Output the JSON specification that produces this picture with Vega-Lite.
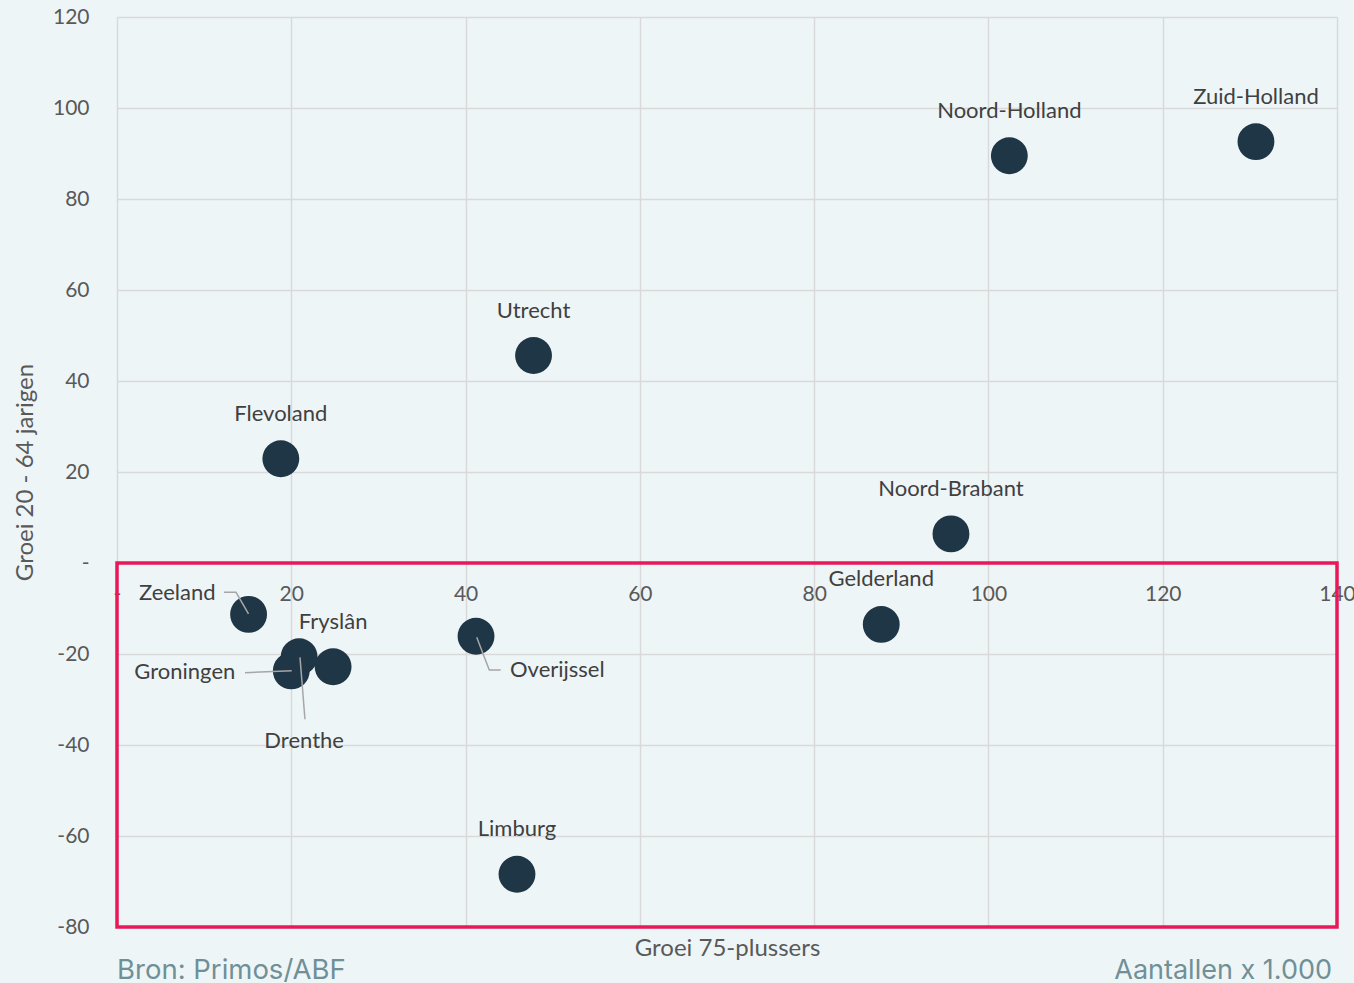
{
  "$schema": "https://vega.github.io/schema/vega-lite/v6.json",
  "width": 1220,
  "height": 910,
  "autosize": {"type": "none"},
  "padding": {"left": 117, "top": 17, "right": 17, "bottom": 56},
  "background": "#eef5f7",
  "config": {"view": {"stroke": null}},
  "datasets": {
    "prov": [
      {"name": "Zuid-Holland", "x": 130.7, "y": 92.6},
      {"name": "Noord-Holland", "x": 102.4, "y": 89.5},
      {"name": "Utrecht", "x": 47.8, "y": 45.6},
      {"name": "Flevoland", "x": 18.8, "y": 22.9},
      {"name": "Noord-Brabant", "x": 95.7, "y": 6.4},
      {"name": "Gelderland", "x": 87.7, "y": -13.5},
      {"name": "Zeeland", "x": 15.1, "y": -11.3},
      {"name": "Drenthe", "x": 20.9, "y": -20.6},
      {"name": "Groningen", "x": 20.0, "y": -23.7},
      {"name": "Fryslân", "x": 24.8, "y": -22.8},
      {"name": "Overijssel", "x": 41.2, "y": -16.1},
      {"name": "Limburg", "x": 45.9, "y": -68.4}
    ],
    "leaders": [
      {"name": "Zeeland", "seq": 1, "x": 12.28, "y": -6.44},
      {"name": "Zeeland", "seq": 2, "x": 13.66, "y": -6.44},
      {"name": "Zeeland", "seq": 3, "x": 15.09, "y": -11.2},
      {"name": "Groningen", "seq": 1, "x": 14.69, "y": -24.11},
      {"name": "Groningen", "seq": 2, "x": 20.05, "y": -23.67},
      {"name": "Drenthe", "seq": 1, "x": 21.0, "y": -20.73},
      {"name": "Drenthe", "seq": 2, "x": 21.57, "y": -34.35},
      {"name": "Overijssel", "seq": 1, "x": 41.28, "y": -16.33},
      {"name": "Overijssel", "seq": 2, "x": 42.72, "y": -23.52},
      {"name": "Overijssel", "seq": 3, "x": 44.03, "y": -23.52}
    ],
    "box": [{"x": 0, "x2": 140, "y": 0, "y2": -80}],
    "footL": [{"x": 0, "y": -80, "text": "Bron: Primos/ABF"}],
    "footR": [{"x": 140, "y": -80, "text": "Aantallen x 1.000"}]
  },
  "data": {"name": "prov"},
  "encoding": {
    "x": {
      "field": "x", "type": "quantitative",
      "scale": {"domain": [0, 140], "nice": false, "zero": false},
      "axis": {
        "values": [0, 20, 40, 60, 80, 100, 120, 140],
        "offset": -364,
        "grid": true, "gridColor": "#d9d9d9", "gridWidth": 1.5,
        "domain": false, "ticks": false,
        "labelPadding": 20, "labelFlush": false, "labelOverlap": false,
        "labelExpr": "datum.value == 0 ? '-' : '' + datum.value",
        "labelFont": "Lato", "labelFontSize": 21, "labelColor": "#595959",
        "title": "Groei 75-plussers",
        "titleFont": "Lato", "titleFontSize": 24, "titleFontWeight": "normal", "titleColor": "#595959",
        "titleY": 385, "titleBaseline": "middle"
      }
    },
    "y": {
      "field": "y", "type": "quantitative",
      "scale": {"domain": [-80, 120], "nice": false, "zero": false},
      "axis": {
        "values": [-80, -60, -40, -20, 0, 20, 40, 60, 80, 100, 120],
        "grid": true, "gridColor": "#d9d9d9", "gridWidth": 1.5,
        "domain": false, "ticks": false,
        "labelPadding": 28, "labelFlush": false, "labelOverlap": false,
        "labelExpr": "datum.value == 0 ? '-' : '' + datum.value",
        "labelFont": "Lato", "labelFontSize": 21, "labelColor": "#595959",
        "title": "Groei 20 - 64 jarigen",
        "titleFont": "Lato", "titleFontSize": 24, "titleFontWeight": "normal", "titleColor": "#595959",
        "titleX": -92, "titleBaseline": "middle"
      }
    }
  },
  "layer": [
    {
      "mark": {"type": "circle", "size": 1360, "color": "#1f3646", "opacity": 1},
      "encoding": {}
    },
    {
      "data": {"name": "leaders"},
      "mark": {"type": "line", "color": "#a6a6a6", "strokeWidth": 1.5},
      "encoding": {
        "detail": {"field": "name"},
        "order": {"field": "seq", "type": "quantitative"}
      }
    },
    {
      "transform": [{"filter": {"not": {"field": "name", "oneOf": ["Zeeland", "Groningen", "Drenthe", "Overijssel"]}}}],
      "mark": {"type": "text", "font": "Lato", "fontSize": 22, "color": "#404040", "baseline": "middle", "align": "center", "dy": -45},
      "encoding": {"text": {"field": "name"}}
    },
    {
      "transform": [{"filter": {"field": "name", "equal": "Zeeland"}}],
      "mark": {"type": "text", "font": "Lato", "fontSize": 22, "color": "#404040", "baseline": "middle", "align": "right", "dx": -33, "dy": -21},
      "encoding": {"text": {"field": "name"}}
    },
    {
      "transform": [{"filter": {"field": "name", "equal": "Groningen"}}],
      "mark": {"type": "text", "font": "Lato", "fontSize": 22, "color": "#404040", "baseline": "middle", "align": "right", "dx": -56, "dy": 1},
      "encoding": {"text": {"field": "name"}}
    },
    {
      "transform": [{"filter": {"field": "name", "equal": "Drenthe"}}],
      "mark": {"type": "text", "font": "Lato", "fontSize": 22, "color": "#404040", "baseline": "middle", "align": "center", "dx": 5, "dy": 84},
      "encoding": {"text": {"field": "name"}}
    },
    {
      "transform": [{"filter": {"field": "name", "equal": "Overijssel"}}],
      "mark": {"type": "text", "font": "Lato", "fontSize": 22, "color": "#404040", "baseline": "middle", "align": "left", "dx": 34, "dy": 34},
      "encoding": {"text": {"field": "name"}}
    },
    {
      "data": {"name": "box"},
      "mark": {"type": "rect", "fill": null, "fillOpacity": 0, "stroke": "#e8185a", "strokeWidth": 3.5},
      "encoding": {"x2": {"field": "x2"}, "y2": {"field": "y2"}}
    },
    {
      "data": {"name": "footL"},
      "mark": {"type": "text", "font": "Inter", "fontSize": 27.5, "color": "#6f9096", "align": "left", "baseline": "alphabetic", "dy": 52},
      "encoding": {"text": {"field": "text"}}
    },
    {
      "data": {"name": "footR"},
      "mark": {"type": "text", "font": "Inter", "fontSize": 27, "color": "#6f9096", "align": "right", "baseline": "alphabetic", "dx": -5, "dy": 52},
      "encoding": {"text": {"field": "text"}}
    }
  ]
}
